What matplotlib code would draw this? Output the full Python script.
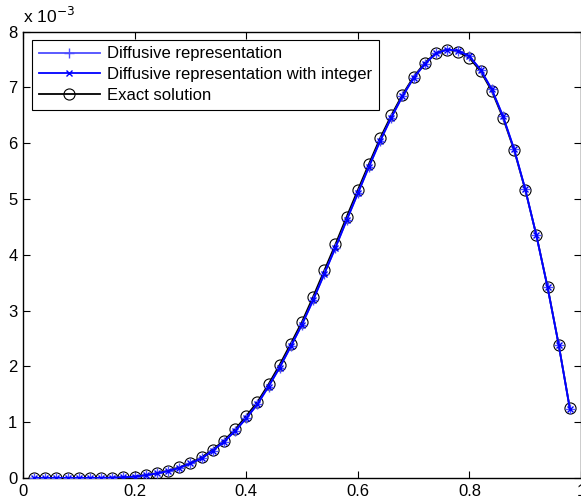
import numpy as np
import matplotlib
matplotlib.use("Agg")
import matplotlib.pyplot as plt

plt.rcParams['font.family'] = ['Liberation Sans', 'DejaVu Sans']

# sample points
x = [0.02, 0.04, 0.06, 0.08, 0.10, 0.12, 0.14, 0.16, 0.18, 0.20,
     0.22, 0.24, 0.26, 0.28, 0.30, 0.32, 0.34, 0.36, 0.38, 0.40,
     0.42, 0.44, 0.46, 0.48, 0.50, 0.52, 0.54, 0.56, 0.58, 0.60,
     0.62, 0.64, 0.66, 0.68, 0.70, 0.72, 0.74, 0.76, 0.78, 0.80,
     0.82, 0.84, 0.86, 0.88, 0.90, 0.92, 0.94, 0.96, 0.98]

# values in units of 1e-3
exact = [0.0, 0.0, 0.0, 0.0, 0.0, 0.0, 0.002, 0.005, 0.012, 0.025,
         0.052, 0.085, 0.13, 0.19, 0.27, 0.37, 0.51, 0.67, 0.87, 1.11,
         1.36, 1.68, 2.03, 2.41, 2.80, 3.25, 3.72, 4.19, 4.68, 5.16,
         5.63, 6.09, 6.50, 6.87, 7.19, 7.44, 7.62, 7.68, 7.64, 7.53,
         7.29, 6.94, 6.46, 5.88, 5.17, 4.35, 3.43, 2.39, 1.25]

diffusive = [0.0, 0.0, 0.0, 0.0, 0.0, 0.0, 0.002, 0.005, 0.012, 0.025,
             0.050, 0.082, 0.125, 0.18, 0.26, 0.35, 0.49, 0.65, 0.84, 1.07,
             1.32, 1.64, 1.98, 2.36, 2.75, 3.19, 3.66, 4.13, 4.62, 5.10,
             5.58, 6.04, 6.46, 6.84, 7.17, 7.42, 7.61, 7.68, 7.66, 7.56,
             7.32, 6.97, 6.49, 5.90, 5.18, 4.35, 3.42, 2.39, 1.24]

diffusive_int = [0.0, 0.0, 0.0, 0.0, 0.0, 0.0, 0.002, 0.005, 0.012, 0.025,
                 0.050, 0.082, 0.125, 0.18, 0.26, 0.35, 0.49, 0.65, 0.84, 1.07,
                 1.32, 1.64, 1.98, 2.36, 2.75, 3.19, 3.66, 4.13, 4.62, 5.10,
                 5.58, 6.04, 6.46, 6.84, 7.17, 7.42, 7.61, 7.68, 7.66, 7.56,
                 7.32, 6.97, 6.49, 5.90, 5.18, 4.35, 3.42, 2.39, 1.24]

xticks = [0, 0.2, 0.4, 0.6, 0.8, 1]
xticklabels = ['0', '0.2', '0.4', '0.6', '0.8', '1']
yticks = [0, 1, 2, 3, 4, 5, 6, 7, 8]

fig = plt.figure(figsize=(5.81, 5.03), dpi=100)
ax = fig.add_axes([0.0396, 0.0497, 0.9604, 0.8873])

ax.plot(x, diffusive, '-', color='#4d4dff', marker='+', markersize=7, mew=1, lw=1.3,
        label='Diffusive representation', zorder=3)
ax.plot(x, diffusive_int, '-', color='#0000ff', marker='x', markersize=5, mew=1, lw=1.3,
        label='Diffusive representation with integer', zorder=4)
ax.plot(x, exact, '-', color='black', marker='o', markersize=8, mfc='none', mew=0.8, lw=1.3,
        label='Exact solution', zorder=2)

ax.set_xlim(0, 1)
ax.set_ylim(0, 8)
ax.set_xticks(xticks)
ax.set_xticklabels(xticklabels)
ax.set_yticks(yticks)
ax.tick_params(direction='in', top=True, right=True, length=5, labelsize=12, pad=4)
for s in ax.spines.values():
    s.set_linewidth(1.0)

ax.text(0.0, 1.012, r'x 10$^{-3}$', transform=ax.transAxes, fontsize=12.5, ha='left', va='bottom')

leg = ax.legend(loc='upper left', bbox_to_anchor=(0.016, 0.982), fontsize=12,
                frameon=True, fancybox=False, edgecolor='black', framealpha=1,
                handlelength=3.7, borderpad=0.4, labelspacing=0.35, handletextpad=0.4,
                borderaxespad=0)
leg.get_frame().set_linewidth(0.8)

fig.savefig('out.png', dpi=100)
